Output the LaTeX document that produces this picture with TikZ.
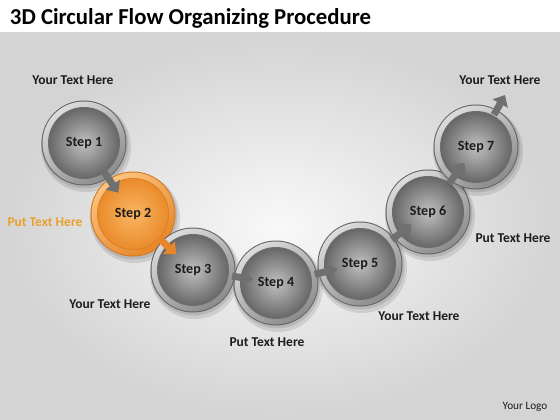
\documentclass[tikz,border=0pt]{standalone}
\usepackage{fontspec}
\setmainfont{Carlito}
\usetikzlibrary{calc,arrows.meta}

\definecolor{ringhi}{RGB}{220,220,220}
\definecolor{ringlo}{RGB}{140,140,140}
\definecolor{ringedge}{RGB}{100,100,100}
\definecolor{gapgray}{RGB}{110,110,110}
\definecolor{ballin}{RGB}{192,192,192}
\definecolor{ballout}{RGB}{104,104,104}
\definecolor{oringhi}{RGB}{252,196,128}
\definecolor{oringlo}{RGB}{230,134,40}
\definecolor{oringedge}{RGB}{214,120,30}
\definecolor{ogapgray}{RGB}{222,128,36}
\definecolor{oballin}{RGB}{250,182,100}
\definecolor{oballout}{RGB}{234,140,44}
\definecolor{arrowgray}{RGB}{112,112,112}
\definecolor{puttext}{RGB}{232,160,48}
\definecolor{darktext}{RGB}{28,28,28}

% #1 name, #2 centre, #3 text, #4 colour prefix (empty or o)
\newcommand{\stepball}[4]{%
  \fill[black,opacity=0.10] ($(#2)+(2,4)$) circle (45);
  \fill[black,opacity=0.10] ($(#2)+(1,2)$) circle (43.5);
  \fill[#4ringedge] (#2) circle (42.5);
  \shade[top color=#4ringhi, bottom color=#4ringlo, shading angle=35] (#2) circle (41.5);
  \fill[#4gapgray] (#2) circle (36);
  \shade[inner color=#4ballin, outer color=#4ballout] (#2) circle (35);
  \node[steptext] (#1) at (#2) {#3};
}

\begin{document}
\begin{tikzpicture}[x=0.025cm,y=-0.025cm,
    steptext/.style={font=\bfseries\fontsize{10}{11}\selectfont, text=darktext},
    note/.style={font=\bfseries\fontsize{9.6}{11}\selectfont, text=darktext},
    putnote/.style={note, text=puttext},
    flow/.style={line width=5pt, arrowgray, -{Triangle[width=12pt,length=7pt]}},
    oflow/.style={flow, oringlo}]
  \useasboundingbox (0,0) rectangle (560,420);
  % background
  \fill[white] (0,0) rectangle (560,33);
  \shade[inner color=gray!5, outer color=gray!34] (0,33) rectangle (560,420);
  \node[anchor=base west, font=\bfseries\fontsize{16.2}{18}\selectfont] (title) at (5,25)
    {3D Circular Flow Organizing Procedure};

  % steps
  \stepball{s1}{84,143}{Step 1}{}
  \stepball{s2}{133,214}{Step 2}{o}
  \stepball{s3}{193,270}{Step 3}{}
  \stepball{s4}{276,283}{Step 4}{}
  \stepball{s5}{360,264}{Step 5}{}
  \stepball{s6}{428,212}{Step 6}{}
  \stepball{s7}{476,147}{Step 7}{}
  \coordinate (out) at (505,95);

  % arrows between steps
  \draw[flow]  ($(s1)!0.38!(s2)$) -- ($(s1)!0.70!(s2)$);
  \draw[oflow] ($(s2)!0.42!(s3)$) -- ($(s2)!0.72!(s3)$);
  \draw[flow]  ($(s3)!0.47!(s4)$) -- ($(s3)!0.72!(s4)$);
  \draw[flow]  ($(s4)!0.46!(s5)$) -- ($(s4)!0.73!(s5)$);
  \draw[flow]  ($(s5)!0.47!(s6)$) -- ($(s5)!0.76!(s6)$);
  \draw[flow]  ($(s6)!0.43!(s7)$) -- ($(s6)!0.76!(s7)$);
  \draw[flow]  ($(s7)!0.62!(out)$) -- (out);

  % labels
  \node[note]    (t1) at (73,80)   {Your Text Here};
  \node[putnote] (t2) at (45,222)  {Put Text Here};
  \node[note]    (t3) at (110,304) {Your Text Here};
  \node[note]    (t4) at (267,342) {Put Text Here};
  \node[note]    (t5) at (419,316) {Your Text Here};
  \node[note]    (t6) at (513,238) {Put Text Here};
  \node[note]    (t7) at (500,80)  {Your Text Here};
  \node[font=\fontsize{8}{9}\selectfont, text=darktext] (logo) at (525,407) {Your Logo};
\end{tikzpicture}
\end{document}
